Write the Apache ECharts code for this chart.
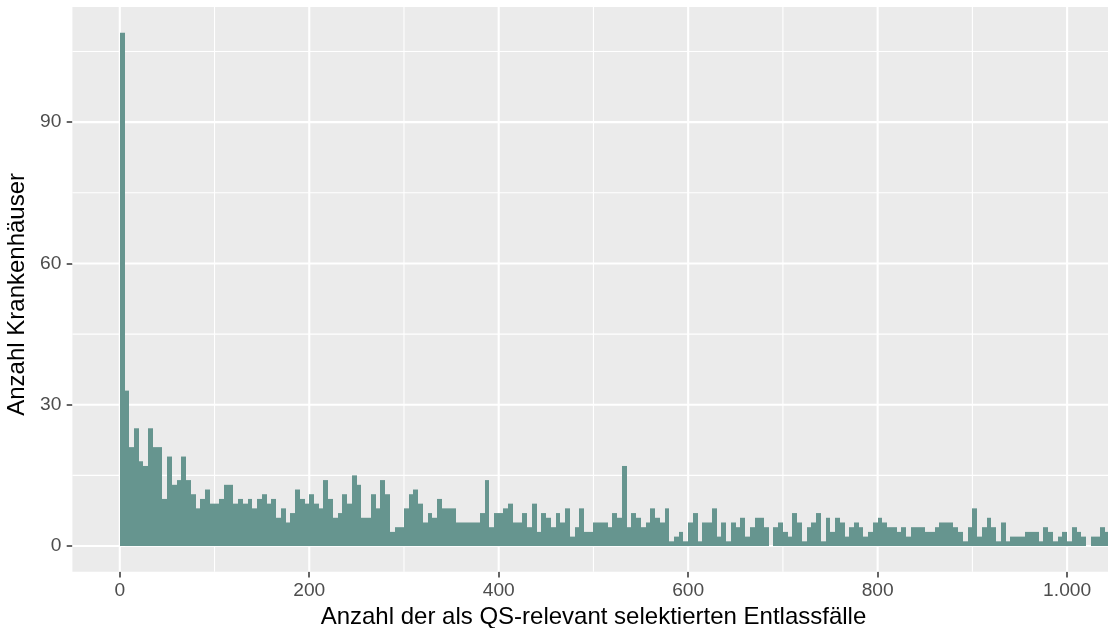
<!DOCTYPE html>
<html>
<head>
<meta charset="utf-8">
<script src="https://cdn.jsdelivr.net/npm/echarts@6/dist/echarts.min.js"></script>
<style>
  html, body { margin: 0; padding: 0; background: #ffffff; }
  #chart { width: 1108px; height: 628px; }
</style>
</head>
<body>
<div id="chart"></div>
<script>
// Histogram: hospitals by number of QS-relevant discharge cases, bins of width 5 starting at 0
const binWidth = 5;
const counts = [
  109, 33, 21, 25, 18, 17, 25, 21, 21, 10,
  19, 13, 14, 19, 14, 11, 8, 10, 12, 9,
  9, 10, 13, 13, 9, 10, 9, 10, 8, 10,
  11, 9, 10, 6, 8, 5, 7, 12, 10, 9,
  11, 9, 8, 14, 10, 6, 7, 11, 9, 15,
  13, 6, 6, 11, 8, 14, 11, 3, 4, 4,
  8, 11, 12, 9, 5, 7, 6, 10, 8, 8,
  8, 5, 5, 5, 5, 5, 7, 14, 4, 7,
  7, 8, 9, 5, 5, 7, 4, 9, 3, 7,
  6, 4, 7, 5, 8, 2, 4, 8, 3, 3,
  5, 5, 5, 4, 7, 6, 17, 4, 7, 6,
  4, 5, 8, 6, 5, 8, 1, 2, 3, 1,
  5, 7, 1, 5, 5, 8, 2, 5, 1, 5,
  4, 6, 2, 4, 6, 6, 4, 0, 4, 5,
  3, 2, 7, 5, 1, 4, 5, 7, 1, 6,
  3, 6, 5, 2, 4, 5, 4, 2, 3, 5,
  6, 5, 4, 4, 3, 4, 2, 4, 4, 4,
  3, 3, 4, 5, 5, 5, 4, 3, 1, 4,
  8, 2, 4, 6, 4, 1, 5, 1, 2, 2,
  2, 3, 3, 3, 1, 4, 3, 1, 2, 3,
  1, 4, 3, 2, 0, 2, 2, 4, 3
];

const xTicks = [0, 200, 400, 600, 800, 1000];
const xTickLabels = ['0', '200', '400', '600', '800', '1.000'];
const xMinorGrid = [100, 300, 500, 700, 900];
const yTicks = [0, 30, 60, 90];
const yTickLabels = ['0', '30', '60', '90'];
const yMinorGrid = [15, 45, 75, 105];

const xTitle = 'Anzahl der als QS-relevant selektierten Entlassfälle';
const yTitle = 'Anzahl Krankenhäuser';

const barColor = '#66958f';
const fontFamily = '"Liberation Sans", Arial, Helvetica, sans-serif';

const xMin = -50, xMax = 1050;
const yMin = -5.45, yMax = 114.45;

const bins = counts.map((c, i) => [i * binWidth, (i + 1) * binWidth, c]);

// grid line rows: [axis (0 = vertical line at x, 1 = horizontal line at y), value, line width]
const gridRows = [
  ...xMinorGrid.map(v => [0, v, 1.1]),
  ...yMinorGrid.map(v => [1, v, 1.1]),
  ...xTicks.map(v => [0, v, 2.1]),
  ...yTicks.map(v => [1, v, 2.1])
];

function labelFor(ticks, labels) {
  return v => {
    const i = ticks.indexOf(Math.round(v));
    return i >= 0 ? labels[i] : '';
  };
}

const chart = echarts.init(document.getElementById('chart'), null, { renderer: 'canvas' });

chart.setOption({
  animation: false,
  backgroundColor: '#ffffff',
  grid: {
    left: 72.4, right: -6.5, top: 7, bottom: 56.3,
    outerBoundsMode: 'none',
    containLabel: false,
    show: true, backgroundColor: '#EBEBEB', borderWidth: 0
  },
  xAxis: {
    type: 'value',
    min: xMin, max: xMax,
    axisLine: { show: false, onZero: false },
    splitLine: { show: false },
    axisTick: {
      show: true, length: 5.7, customValues: xTicks,
      lineStyle: { color: '#333333', width: 1.5 }
    },
    axisLabel: {
      customValues: xTicks,
      formatter: labelFor(xTicks, xTickLabels),
      color: '#4D4D4D', fontSize: 19.2, fontFamily, margin: 9.5
    },
    name: xTitle,
    nameLocation: 'middle',
    nameGap: 31,
    nameTextStyle: { color: '#000000', fontSize: 24, fontFamily }
  },
  yAxis: {
    type: 'value',
    min: yMin, max: yMax,
    axisLine: { show: false, onZero: false },
    splitLine: { show: false },
    axisTick: {
      show: true, length: 5.7, customValues: yTicks,
      lineStyle: { color: '#333333', width: 1.5 }
    },
    axisLabel: {
      customValues: yTicks,
      formatter: labelFor(yTicks, yTickLabels),
      color: '#4D4D4D', fontSize: 19.2, fontFamily, margin: 11
    },
    name: yTitle,
    nameLocation: 'middle',
    nameGap: 36,
    nameTextStyle: { color: '#000000', fontSize: 24, fontFamily, padding: [0, 10, 0, 0] }
  },
  series: [
    {
      // white panel grid lines, drawn under the bars
      type: 'custom',
      z: 1,
      silent: true,
      data: gridRows,
      encode: { x: 1 },
      renderItem: function (params, api) {
        const isY = api.value(0) === 1;
        const v = api.value(1);
        const w = api.value(2);
        const a = isY ? api.coord([xMin, v]) : api.coord([v, yMin]);
        const b = isY ? api.coord([xMax, v]) : api.coord([v, yMax]);
        return {
          type: 'line',
          shape: { x1: a[0], y1: a[1], x2: b[0], y2: b[1] },
          style: { stroke: '#ffffff', lineWidth: w }
        };
      }
    },
    {
      type: 'custom',
      z: 2,
      data: bins,
      encode: { x: [0, 1], y: 2 },
      renderItem: function (params, api) {
        const c = api.value(2);
        if (!c) return null;
        const p0 = api.coord([api.value(0), 0]);
        const p1 = api.coord([api.value(1), c]);
        const x0 = Math.round(p0[0]);
        const x1 = Math.round(p1[0]);
        const cs = params.coordSys;
        const shape = echarts.graphic.clipRectByRect(
          { x: x0, y: p1[1], width: x1 - x0, height: p0[1] - p1[1] },
          { x: cs.x, y: cs.y, width: cs.width, height: cs.height }
        );
        return shape && {
          type: 'rect',
          shape: shape,
          style: { fill: barColor }
        };
      }
    }
  ]
});
</script>
</body>
</html>
